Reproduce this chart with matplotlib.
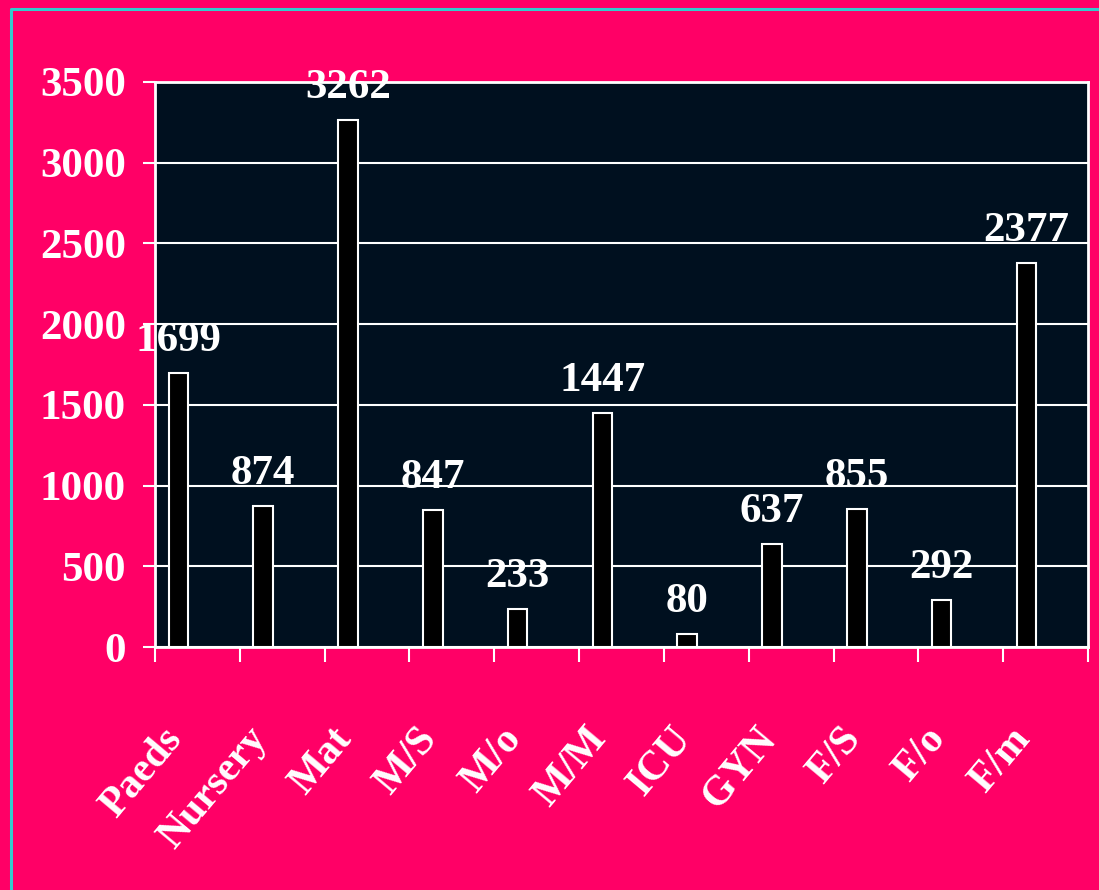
import matplotlib
matplotlib.use("Agg")
import matplotlib.pyplot as plt
from matplotlib.lines import Line2D
from matplotlib.transforms import blended_transform_factory
import numpy as np

categories = ["Paeds", "Nursery", "Mat", "M/S", "M/o", "M/M", "ICU", "GYN", "F/S", "F/o", "F/m"]
values = [1699, 874, 3262, 847, 233, 1447, 80, 637, 855, 292, 2377]
yticks = [0, 500, 1000, 1500, 2000, 2500, 3000, 3500]

PINK = "#FF0066"
DARK = "#00101F"
CYAN = "#33CCCC"
FONT = ["Liberation Serif", "DejaVu Serif"]

plt.rcParams["font.family"] = FONT
plt.rcParams["font.weight"] = "bold"

fig = plt.figure(figsize=(10.99, 8.90), dpi=100, facecolor=PINK)
ax = fig.add_axes([155/1099, 1 - 647/890, (1088-155)/1099, (647-82)/890])
ax.set_facecolor(DARK)

n = len(categories)
centers = np.arange(n) + 0.5
bar_x = centers - 0.225
ax.bar(bar_x, values, width=0.23, color="black", edgecolor="white", linewidth=1.5, zorder=3)

ax.set_xlim(0, n)
ax.set_ylim(0, 3500)
ax.set_yticks(yticks)
ax.set_yticklabels([str(v) for v in yticks], fontsize=31, fontweight="bold", color="white")
ax.set_xticks(np.arange(n + 1))
ax.set_xticklabels([])
ax.tick_params(axis="y", length=9, width=1.5, color="white", pad=12, direction="out")
ax.tick_params(axis="x", length=11, width=1.5, color="white", direction="out")
ax.yaxis.grid(True, color="white", linewidth=1.5, zorder=1)
ax.set_axisbelow(True)
for s in ax.spines.values():
    s.set_color("white")
    s.set_linewidth(2)

for x, v in zip(bar_x, values):
    ax.annotate(str(v), (x, v), xytext=(0, 16), textcoords="offset points",
                ha="center", va="baseline", fontsize=31, fontweight="bold",
                color="white", zorder=5, annotation_clip=False)

trans = blended_transform_factory(ax.transData, ax.transAxes)
for x, lab in zip(bar_x, categories):
    ax.text(x - 0.2, -0.13, lab, transform=trans, rotation=50, rotation_mode="anchor",
            ha="right", va="top", fontsize=30, fontweight="bold", color="white")

# cyan frame
fig.add_artist(Line2D([11/1099, 11/1099, 1.0], [0.0, 1 - 9/890, 1 - 9/890],
                      transform=fig.transFigure, color=CYAN, linewidth=2.2))

fig.savefig("out.png", dpi=100, facecolor=PINK)
